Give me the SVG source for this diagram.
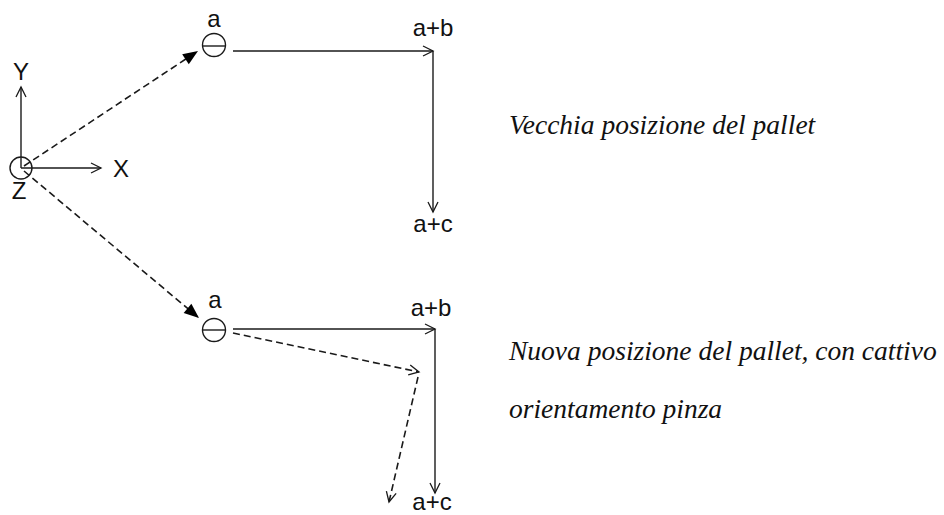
<svg xmlns="http://www.w3.org/2000/svg" width="944" height="515" viewBox="0 0 944 515">
<style>
.ln{stroke:#1a1a1a;stroke-width:1.4;fill:none}
.ds{stroke:#1a1a1a;stroke-width:1.6;fill:none;stroke-dasharray:7 4}
.lbl{font-family:"Liberation Sans",Arial,sans-serif;font-size:24px;fill:#111;text-anchor:middle}
.cap{font-family:"Liberation Serif","Times New Roman",serif;font-style:italic;font-size:27.5px;fill:#111}
</style>
<defs>
<marker id="open" markerUnits="userSpaceOnUse" markerWidth="14" markerHeight="12" refX="11" refY="5" orient="auto" overflow="visible">
<path d="M1,0 L11,5 L1,10" fill="none" stroke="#1a1a1a" stroke-width="1.3"/>
</marker>
<marker id="fill" markerUnits="userSpaceOnUse" markerWidth="16" markerHeight="14" refX="15" refY="6" orient="auto" overflow="visible">
<path d="M0,0 L15,6 L0,12 z" fill="#000"/>
</marker>
</defs>
<rect width="944" height="515" fill="#fff"/>
<g id="connectors">
<line class="ln" x1="21" y1="168" x2="21" y2="87" marker-end="url(#open)"/>
<line class="ln" x1="21" y1="168" x2="101" y2="168" marker-end="url(#open)"/>
<line class="ds" x1="24" y1="166" x2="198" y2="51" marker-end="url(#fill)"/>
<line class="ds" x1="24" y1="171" x2="199" y2="318" marker-end="url(#fill)"/>
<line class="ln" x1="233" y1="51" x2="433" y2="51" marker-end="url(#open)"/>
<line class="ln" x1="433" y1="51" x2="433" y2="212" marker-end="url(#open)"/>
<line class="ln" x1="233" y1="329" x2="435" y2="329" marker-end="url(#open)"/>
<line class="ln" x1="435" y1="329" x2="435" y2="493" marker-end="url(#open)"/>
<line class="ds" x1="233" y1="333" x2="419" y2="372" marker-end="url(#open)"/>
<line class="ds" x1="418" y1="377" x2="389" y2="502" marker-end="url(#open)"/>
</g>
<g id="origin">
<circle class="ln" cx="21" cy="168" r="11"/>
<text class="lbl" x="21" y="80">Y</text>
<text class="lbl" x="121" y="177">X</text>
<text class="lbl" x="19" y="199">Z</text>
</g>
<g id="pointA1">
<circle class="ln" cx="214" cy="45" r="11.5"/>
<line class="ln" x1="202.5" y1="46" x2="225.5" y2="46"/>
<text class="lbl" x="214" y="27">a</text>
</g>
<g id="pointAB1"><text class="lbl" x="433" y="36">a+b</text></g>
<g id="pointAC1"><text class="lbl" x="433" y="232">a+c</text></g>
<g id="pointA2">
<circle class="ln" cx="214" cy="330" r="11.5"/>
<line class="ln" x1="202.5" y1="330" x2="225.5" y2="330"/>
<text class="lbl" x="215" y="308">a</text>
</g>
<g id="pointAB2"><text class="lbl" x="431" y="316">a+b</text></g>
<g id="pointAC2"><text class="lbl" x="432" y="510">a+c</text></g>
<g id="caption1"><text class="cap" x="509" y="134">Vecchia posizione del pallet</text></g>
<g id="caption2">
<text class="cap" x="509" y="360">Nuova posizione del pallet, con cattivo</text>
<text class="cap" x="509" y="418">orientamento pinza</text>
</g>
</svg>
